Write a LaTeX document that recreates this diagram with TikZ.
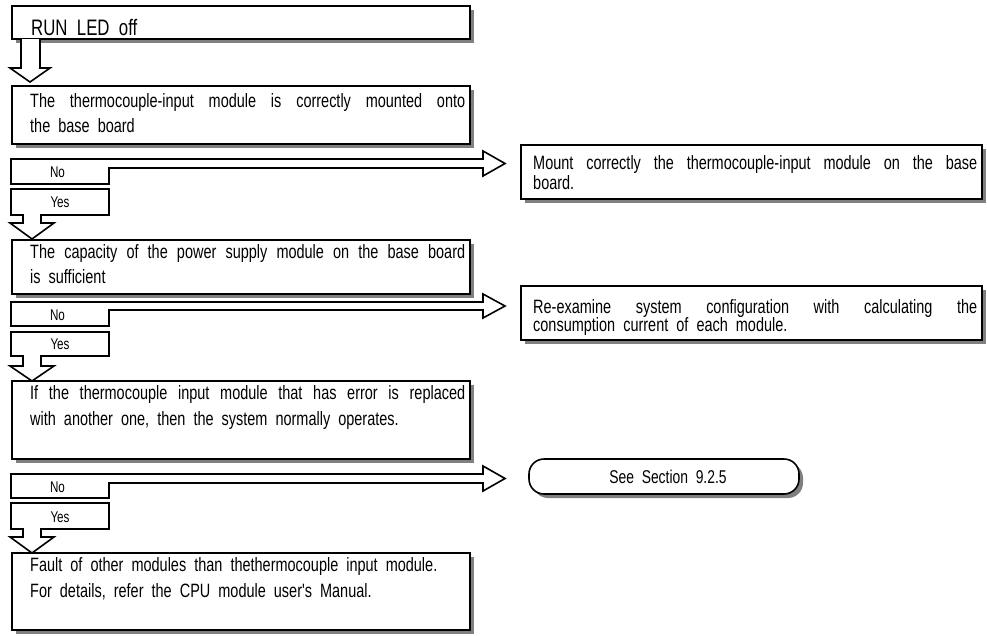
\documentclass[tikz,border=0pt]{standalone}
\usepackage{fontspec}
\setmainfont{Liberation Sans}[FakeStretch=0.75, WordSpace=2.0, Ligatures=TeXOff]
\usetikzlibrary{shadows}
\definecolor{shadowgray}{RGB}{128,128,128}
\tikzset{
  box/.style={draw, line width=1.6pt, fill=white, rectangle, inner sep=0pt, outer sep=0pt,
    drop shadow={shadow xshift=4pt, shadow yshift=-4pt, fill=shadowgray, opacity=1}},
  flow/.style={draw, line width=1.6pt, fill=white, line join=miter},
  txt/.style={font=\fontsize{19.3}{22}\selectfont, inner sep=0pt, anchor=base west},
  yn/.style={font=\fontsize{15.5}{17}\selectfont, inner sep=0pt},
}
\newcommand{\jl}[2]{\makebox[#1][s]{#2}}
\begin{document}
\begin{tikzpicture}[x=1pt,y=-1pt]
\useasboundingbox (0,0) rectangle (987,635);
% main boxes
\node[box, minimum width=458pt, minimum height=33pt, anchor=north west] (b1) at (12,6) {};
\node[box, minimum width=458pt, minimum height=58pt, anchor=north west] (b2) at (12,86) {};
\node[box, minimum width=458pt, minimum height=54pt, anchor=north west] (b3) at (12,240) {};
\node[box, minimum width=458pt, minimum height=78pt, anchor=north west] (b4) at (12,381) {};
\node[box, minimum width=458pt, minimum height=77pt, anchor=north west] (b5) at (12,553) {};
% right boxes
\node[box, minimum width=461pt, minimum height=54pt, anchor=north west] (ra) at (521,145) {};
\node[box, minimum width=461pt, minimum height=54pt, anchor=north west] (rb) at (521,286) {};
\node[box, rounded corners=15pt, minimum width=270pt, minimum height=35pt, anchor=north west] (rc) at (529,459) {};

% top arrow
\draw[flow] (21,39) -- (21,68) -- (10,68) -- (30,82) -- (50,68) -- (40,68) -- (40,39);

% No / Yes shapes
\draw[flow] (11,159) -- (483,159) -- (483,151) -- (505,163.5) -- (483,176) -- (483,168) -- (109,168) -- (109,184) -- (11,184) -- cycle;
\draw[flow] (11,189) -- (109,189) -- (109,215) -- (41,215) -- (41,223) -- (54,223) -- (32,239) -- (10,223) -- (23,223) -- (23,215) -- (11,215) -- cycle;

\draw[flow] (11,302) -- (483,302) -- (483,294) -- (505,306) -- (483,318) -- (483,310) -- (109,310) -- (109,326) -- (11,326) -- cycle;
\draw[flow] (11,332) -- (109,332) -- (109,356) -- (41,356) -- (41,366) -- (54,366) -- (32,381) -- (10,366) -- (23,366) -- (23,356) -- (11,356) -- cycle;

\draw[flow] (11,474) -- (483,474) -- (483,466) -- (505,478.5) -- (483,491) -- (483,483) -- (109,483) -- (109,498) -- (11,498) -- cycle;
\draw[flow] (11,503) -- (109,503) -- (109,529) -- (41,529) -- (41,537) -- (54,537) -- (32,553) -- (10,537) -- (23,537) -- (23,529) -- (11,529) -- cycle;

% No / Yes labels
\node[yn] (no1) at (57.5,172) {No};
\node[yn] (yes1) at (60,202) {Yes};
\node[yn] (no2) at (57.5,315) {No};
\node[yn] (yes2) at (60,344) {Yes};
\node[yn] (no3) at (57.5,487) {No};
\node[yn] (yes3) at (60,517) {Yes};

% texts
\node[txt, font=\fontsize{22.4}{26}\selectfont] (t1) at (31,35) {RUN LED off};
\node[txt] (t2a) at (30,107) {\jl{435pt}{The thermocouple-input module is correctly mounted onto}};
\node[txt] (t2b) at (30,132) {the base board};
\node[txt] (t3a) at (30,258) {\jl{435pt}{The capacity of the power supply module on the base board}};
\node[txt] (t3b) at (30,283) {is sufficient};
\node[txt] (t4a) at (30,399) {\jl{435pt}{If the thermocouple input module that has error is replaced}};
\node[txt] (t4b) at (30,425) {with another one, then the system normally operates.};
\node[txt] (t5a) at (30,571) {Fault of other modules than thethermocouple input module.};
\node[txt] (t5b) at (30,597) {For details, refer the CPU module user's Manual.};
\node[txt] (tAa) at (533,169) {\jl{444pt}{Mount correctly the thermocouple-input module on the base}};
\node[txt] (tAb) at (533,189) {board.};
\node[txt] (tBa) at (533,313) {\jl{444pt}{Re-examine system configuration with calculating the}};
\node[txt] (tBb) at (533,331) {consumption current of each module.};
\node[txt, anchor=center, font=\fontsize{18.5}{21}\selectfont] (tC) at (668,477) {See Section 9.2.5};
\end{tikzpicture}
\end{document}
